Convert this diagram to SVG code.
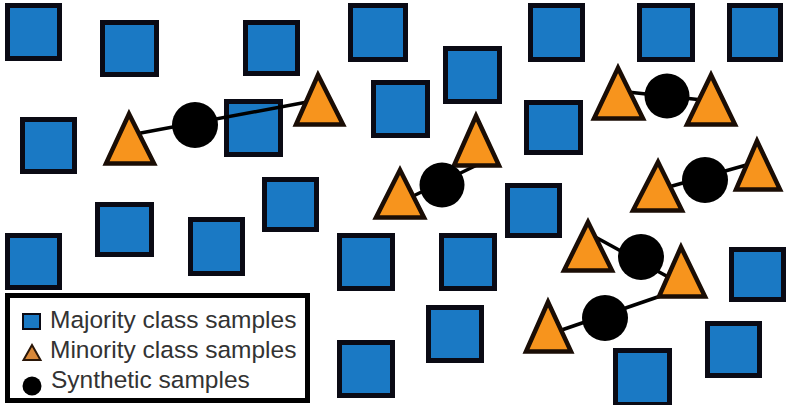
<svg xmlns="http://www.w3.org/2000/svg" width="787" height="405" viewBox="0 0 787 405">
<style>
.maj{fill:#1a79c4;stroke:#0a0a14;stroke-width:5}
.min{fill:#f7941d;stroke:#1a0d05;stroke-width:4.5;stroke-linejoin:miter}
.syn{fill:#000}
.con{stroke:#000;stroke-width:3.5;fill:none}
.lt{font-family:"Liberation Sans",Arial,sans-serif;font-size:24.5px;fill:#333}
</style>
<rect width="787" height="405" fill="#fff"/>
<g id="majority">
<rect id="sqA" class="maj" x="7.5" y="5.5" width="52" height="53"/>
<rect id="sqB" class="maj" x="102.5" y="22.5" width="54" height="52"/>
<rect id="sqC" class="maj" x="245.5" y="22.5" width="52" height="51"/>
<rect id="sqD" class="maj" x="22.5" y="119.5" width="52" height="52"/>
<rect id="sqE" class="maj" x="226.5" y="101.5" width="54" height="53"/>
<rect id="sqF" class="maj" x="350.5" y="5.5" width="55" height="54"/>
<rect id="sqG" class="maj" x="373.5" y="82.5" width="54" height="53"/>
<rect id="sqH" class="maj" x="445.5" y="48.5" width="54" height="53"/>
<rect id="sqK" class="maj" x="526.5" y="102.5" width="54" height="50"/>
<rect id="sqI" class="maj" x="264.5" y="179.5" width="52" height="50"/>
<rect id="sqJ" class="maj" x="507.5" y="185.5" width="52" height="50"/>
<rect id="sqL" class="maj" x="530.5" y="5.5" width="52" height="54"/>
<rect id="sqM" class="maj" x="639.5" y="5.5" width="53" height="54"/>
<rect id="sqN" class="maj" x="729.5" y="5.5" width="51" height="54"/>
<rect id="sqO" class="maj" x="7.5" y="235.5" width="52" height="52"/>
<rect id="sqP" class="maj" x="97.5" y="204.5" width="54" height="50"/>
<rect id="sqQ" class="maj" x="190.5" y="219.5" width="52" height="54"/>
<rect id="sqR" class="maj" x="339.5" y="235.5" width="53" height="53"/>
<rect id="sqS" class="maj" x="441.5" y="235.5" width="53" height="53"/>
<rect id="sqT" class="maj" x="428.5" y="307.5" width="53" height="53"/>
<rect id="sqU" class="maj" x="339.5" y="342.5" width="53" height="53"/>
<rect id="sqV" class="maj" x="731.5" y="249.5" width="52" height="50"/>
<rect id="sqW" class="maj" x="615.5" y="350.5" width="54" height="54"/>
<rect id="sqX" class="maj" x="707.5" y="323.5" width="52" height="52"/>
</g>
<g id="connectors">
<line class="con" x1="130" y1="135" x2="318" y2="100"/>
<line class="con" x1="405" y1="200" x2="477" y2="165"/>
<line class="con" x1="618" y1="91" x2="712" y2="101"/>
<line class="con" x1="658" y1="190" x2="757" y2="162"/>
<line class="con" x1="588" y1="233" x2="681" y2="284"/>
<line class="con" x1="550" y1="334" x2="678" y2="290"/>
</g>
<g id="minority">
<polygon id="t1" class="min" points="129,114 106,163.5 154,163.5"/>
<polygon id="t2" class="min" points="318,75 296,124.5 343,124.5"/>
<polygon id="t3" class="min" points="476,116 454,165.5 499,165.5"/>
<polygon id="t4" class="min" points="400,170 376,217.5 424,217.5"/>
<polygon id="t5" class="min" points="618,68 594,118.5 643,118.5"/>
<polygon id="t6" class="min" points="711,75 687,124.5 735,124.5"/>
<polygon id="t7" class="min" points="658,162 633,210.5 682,210.5"/>
<polygon id="t8" class="min" points="757,141 736,189.5 780,189.5"/>
<polygon id="t9" class="min" points="588,222 564,270.5 612,270.5"/>
<polygon id="t10" class="min" points="681,247 659,296.5 705,296.5"/>
<polygon id="t11" class="min" points="548,302 526,351.5 571,351.5"/>
</g>
<g id="synthetic">
<circle id="c1" class="syn" cx="195" cy="125" r="23"/>
<circle id="c2" class="syn" cx="442" cy="185" r="22.5"/>
<circle id="c3" class="syn" cx="667" cy="96" r="22.5"/>
<circle id="c4" class="syn" cx="705" cy="180" r="23"/>
<circle id="c5" class="syn" cx="641" cy="257" r="23"/>
<circle id="c6" class="syn" cx="605" cy="318" r="23"/>
</g>
<g id="legend">
<rect x="7.5" y="295.5" width="300" height="105" fill="#fff" stroke="#000" stroke-width="5"/>
<rect x="23" y="314" width="17" height="15" fill="#1a79c4" stroke="#0a0a14" stroke-width="2"/>
<polygon points="32,345 23.5,360 40.5,360" fill="#d8883a" stroke="#2a1608" stroke-width="2"/>
<circle cx="32" cy="386" r="9.5" fill="#000"/>
<text class="lt" x="50" y="328">Majority class samples</text>
<text class="lt" x="50" y="358">Minority class samples</text>
<text class="lt" x="51" y="388">Synthetic samples</text>
</g>
</svg>
